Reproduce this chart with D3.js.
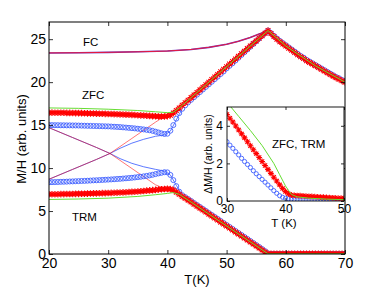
<!DOCTYPE html>
<html>
<head>
<meta charset="utf-8">
<script src="https://d3js.org/d3.v7.min.js"></script>
<style>
  body { margin: 0; background: #fff; }
  svg text { font-family: "Liberation Sans", Arial, sans-serif; fill: #000; }
</style>
</head>
<body>
<svg id="chart" width="382" height="288"></svg>
<script>
// ---- main panel data (T in K, M/H in arb. units) ----
const temps = [20,20.5,21,21.5,22,22.5,23,23.5,24,24.5,
  25,25.5,26,26.5,27,27.5,28,28.5,29,29.5,
  30,30.5,31,31.5,32,32.5,33,33.5,34,34.5,
  35,35.5,36,36.5,37,37.5,38,38.5,39,39.5,
  40,40.5,41,41.5,42,42.5,43,43.5,44,44.5,
  45,45.5,46,46.5,47,47.5,48,48.5,49,49.5,
  50,50.5,51,51.5,52,52.5,53,53.5,54,54.5,
  55,55.5,56,56.5,57,57.5,58,58.5,59,59.5,
  60,60.5,61,61.5,62,62.5,63,63.5,64,64.5,
  65,65.5,66,66.5,67,67.5,68,68.5,69,69.5,
  70];

const zfcStars = [16.45,16.45,16.44,16.44,16.43,16.43,16.42,16.42,16.41,16.40,
  16.40,16.39,16.38,16.37,16.36,16.35,16.34,16.33,16.32,16.31,
  16.30,16.29,16.28,16.27,16.25,16.24,16.22,16.21,16.19,16.17,
  16.15,16.13,16.11,16.09,16.07,16.05,16.03,16.01,16.00,16.00,
  16.05,16.15,16.40,16.70,17.00,17.30,17.60,17.90,18.20,18.50,
  18.80,19.10,19.40,19.70,20.00,20.30,20.60,20.90,21.20,21.50,
  21.80,22.10,22.40,22.70,23.00,23.30,23.60,23.90,24.20,24.50,
  24.80,25.10,25.40,25.70,26.00,25.65,25.30,25.00,24.70,24.45,
  24.20,23.95,23.70,23.45,23.20,22.95,22.75,22.50,22.30,22.10,
  21.90,21.70,21.50,21.30,21.10,20.90,20.70,20.50,20.35,20.15,
  20.00];

const zfcCircles = [15.00,15.00,14.99,14.99,14.98,14.98,14.97,14.97,14.96,14.96,
  14.95,14.94,14.93,14.92,14.91,14.90,14.89,14.88,14.87,14.86,
  14.85,14.83,14.81,14.79,14.77,14.74,14.71,14.68,14.65,14.62,
  14.58,14.54,14.50,14.45,14.40,14.33,14.24,14.14,14.04,13.97,
  14.00,14.35,15.00,15.75,16.40,16.90,17.30,17.65,17.95,18.25,
  18.55,18.85,19.15,19.45,19.75,20.05,20.35,20.65,20.95,21.25,
  21.60,21.90,22.20,22.52,22.84,23.16,23.48,23.80,24.12,24.44,
  24.76,25.08,25.40,25.70,26.00,25.70,25.38,25.08,24.80,24.55,
  24.30,24.05,23.80,23.55,23.30,23.05,22.85,22.60,22.40,22.20,
  22.00,21.80,21.60,21.40,21.20,21.00,20.80,20.60,20.45,20.25,
  20.10];

const trmStars = [6.95,6.95,6.96,6.96,6.97,6.97,6.98,6.98,6.99,7.00,
  7.00,7.01,7.02,7.03,7.04,7.05,7.06,7.07,7.08,7.09,
  7.10,7.11,7.12,7.14,7.15,7.17,7.19,7.21,7.23,7.25,
  7.28,7.31,7.34,7.37,7.40,7.43,7.46,7.50,7.53,7.56,
  7.58,7.55,7.45,7.20,6.95,6.70,6.50,6.27,6.04,5.80,
  5.57,5.34,5.11,4.88,4.64,4.41,4.18,3.95,3.71,3.48,
  3.25,3.02,2.79,2.55,2.32,2.09,1.86,1.63,1.39,1.16,
  0.93,0.70,0.46,0.23,0.02,0.02,0.02,0.02,0.02,0.02,
  0.02,0.02,0.02,0.02,0.02,0.02,0.02,0.02,0.02,0.02,
  0.02,0.02,0.02,0.02,0.02,0.02,0.02,0.02,0.02,0.02,
  0.02];

const trmCircles = [8.35,8.36,8.37,8.38,8.40,8.41,8.42,8.44,8.45,8.47,
  8.48,8.50,8.51,8.53,8.55,8.57,8.58,8.60,8.62,8.64,
  8.66,8.68,8.70,8.73,8.75,8.78,8.81,8.84,8.87,8.91,
  8.95,8.99,9.04,9.09,9.15,9.22,9.30,9.38,9.45,9.52,
  9.50,9.20,8.60,7.90,7.25,6.85,6.62,6.40,6.17,5.93,
  5.70,5.47,5.24,5.01,4.77,4.54,4.31,4.08,3.84,3.61,
  3.38,3.15,2.92,2.68,2.45,2.22,1.99,1.76,1.52,1.29,
  1.05,0.82,0.58,0.33,0.08,0.02,0.02,0.02,0.02,0.02,
  0.02,0.02,0.02,0.02,0.02,0.02,0.02,0.02,0.02,0.02,
  0.02,0.02,0.02,0.02,0.02,0.02,0.02,0.02,0.02,0.02,
  0.02];

// thin green curves
const greenT = [20, 25, 30, 35, 38, 40, 41, 42, 44, 57, 60, 65, 70];
const greenZfc = [17.0, 16.95, 16.85, 16.7, 16.55, 16.45, 16.5, 17.0, 18.2, 26.0, 24.2, 21.9, 20.0];
const greenTrm = [6.35, 6.4, 6.5, 6.7, 6.9, 7.05, 7.15, 6.95, 6.04, 0.02, 0.02, 0.02, 0.02];

// FC curve
const fcT = [20, 25, 30, 35, 40, 44, 47, 50, 52, 54, 55.5, 56.5, 57, 58, 60, 62, 64, 66, 68, 70];
const fcVal = [23.4, 23.42, 23.47, 23.53, 23.62, 23.8, 24.05, 24.4, 24.75, 25.2, 25.6, 25.85, 26.0,
  25.3, 24.2, 23.2, 22.3, 21.5, 20.7, 20.0];

// crossing thin lines
const redT = [20, 24, 28, 30.3, 34, 38, 42];
const redRise = [8.7, 9.85, 11.0, 11.7, 13.45, 15.35, 17.1];
const redFall = [14.7, 13.55, 12.4, 11.7, 9.95, 8.05, 6.95];
const blueT = [20, 24, 28, 30.3, 32, 34, 36, 38, 39.5, 40.5, 41.5, 42.5];
const blueRise = [8.7, 9.85, 11.0, 11.7, 12.3, 12.9, 13.35, 13.7, 13.85, 14.3, 15.6, 16.9];
const blueFall = [14.7, 13.55, 12.4, 11.7, 11.1, 10.55, 10.15, 9.85, 9.65, 9.2, 8.0, 6.9];

// ---- inset data ----
const insetT = [30,30.5,31,31.5,32,32.5,33,33.5,34,34.5,
  35,35.5,36,36.5,37,37.5,38,38.5,39,39.5,
  40,40.5,41,41.5,42,42.5,43,43.5,44,44.5,
  45,45.5,46,46.5,47,47.5,48,48.5,49,49.5,
  50];
const insetStars = [4.60,4.40,4.20,3.99,3.78,3.57,3.36,3.15,2.94,2.73,
  2.52,2.31,2.10,1.89,1.68,1.47,1.26,1.06,0.86,0.67,
  0.50,0.38,0.32,0.30,0.29,0.28,0.27,0.26,0.25,0.24,
  0.23,0.22,0.21,0.20,0.19,0.18,0.17,0.16,0.15,0.15,
  0.14];
const insetCircles = [3.15,2.97,2.80,2.62,2.45,2.27,2.10,1.94,1.78,1.61,
  1.45,1.30,1.15,1.00,0.85,0.70,0.55,0.41,0.28,0.20,
  0.15,0.12,0.10,0.08,0.07,0.06,0.06,0.05,0.05,0.05,
  0.05,0.05,0.05,0.05,0.05,0.05,0.05,0.05,0.05,0.05,
  0.05];
const greenInT = [30, 32, 34, 36, 38, 39, 40, 41, 42, 44, 47, 50];
const greenIn = [5.25, 4.5, 3.75, 2.95, 2.0, 1.4, 0.8, 0.35, 0.22, 0.15, 0.1, 0.07];

const xTicks = [20, 30, 40, 50, 60, 70];
const yTicks = [0, 5, 10, 15, 20, 25];
const xTicksIn = [30, 40, 50];
const yTicksIn = [0, 2, 4];

const RED = "#ff0000", BLUE = "#4060ff", GREEN = "#66dd33";

const svg = d3.select("#chart");

// scales
const x = d3.scaleLinear().domain([20, 70]).range([49, 345]);
const y = d3.scaleLinear().domain([0, 27]).range([254, 22]);
const xi = d3.scaleLinear().domain([30, 50]).range([227, 344]);
const yi = d3.scaleLinear().domain([0, 5]).range([201, 107]);

function starPath(s) {
  const d = s * 0.72;
  return `M${-s},0H${s}M0,${-s}V${s}M${-d},${-d}L${d},${d}M${-d},${d}L${d},${-d}`;
}

function drawLine(g, xs, ys, sx, sy, color, w, op) {
  const line = d3.line().x((d, i) => sx(xs[i])).y(d => sy(d));
  g.append("path").datum(ys).attr("d", line)
    .attr("fill", "none").attr("stroke", color)
    .attr("stroke-width", w).attr("stroke-opacity", op || 1);
}

function drawCircles(g, xs, ys, sx, sy, r) {
  g.append("g").selectAll("circle").data(ys).join("circle")
    .attr("cx", (d, i) => sx(xs[i])).attr("cy", d => sy(d)).attr("r", r)
    .attr("fill", "none").attr("stroke", BLUE).attr("stroke-width", 0.9);
}

function drawStars(g, xs, ys, sx, sy, s, w) {
  g.append("g").selectAll("path").data(ys).join("path")
    .attr("transform", (d, i) => `translate(${sx(xs[i])},${sy(d)})`)
    .attr("d", starPath(s))
    .attr("fill", "none").attr("stroke", RED).attr("stroke-width", w);
}

// ---- main panel ----
svg.append("defs").append("clipPath").attr("id", "clipMain")
  .append("rect").attr("x", 49).attr("y", 22).attr("width", 296).attr("height", 232);
svg.append("defs").append("clipPath").attr("id", "clipIn")
  .append("rect").attr("x", 227).attr("y", 107).attr("width", 117).attr("height", 94);

const plot = svg.append("g").attr("clip-path", "url(#clipMain)");

drawLine(plot, blueT, blueRise, x, y, BLUE, 1, 0.85);
drawLine(plot, blueT, blueFall, x, y, BLUE, 1, 0.85);
drawLine(plot, redT, redRise, x, y, RED, 0.9, 0.6);
drawLine(plot, redT, redFall, x, y, RED, 0.9, 0.6);

drawLine(plot, fcT, fcVal, x, y, "#6a3cc8", 1.6);
drawLine(plot, fcT, fcVal, x, y, "#e8183c", 1.0);

drawCircles(plot, temps, zfcCircles, x, y, 2.5);
drawCircles(plot, temps, trmCircles, x, y, 2.5);
drawStars(plot, temps, zfcStars, x, y, 3.3, 1.1);
drawStars(plot, temps, trmStars, x, y, 3.3, 1.1);
drawLine(plot, greenT, greenZfc, x, y, GREEN, 1);
drawLine(plot, greenT, greenTrm, x, y, GREEN, 1);

// axes, inward ticks
const axB = svg.append("g").attr("transform", "translate(0,254)")
  .call(d3.axisBottom(x).tickValues(xTicks).tickSize(-4).tickPadding(4).tickFormat(d3.format("d")));
const axL = svg.append("g").attr("transform", "translate(49,0)")
  .call(d3.axisLeft(y).tickValues(yTicks).tickSize(-4).tickPadding(3).tickFormat(d3.format("d")));
const axT = svg.append("g").attr("transform", "translate(0,22)")
  .call(d3.axisTop(x).tickValues(xTicks).tickSize(-4).tickFormat(""));
const axR = svg.append("g").attr("transform", "translate(345,0)")
  .call(d3.axisRight(y).tickValues(yTicks).tickSize(-4).tickFormat(""));
[axB, axL, axT, axR].forEach(a => {
  a.select(".domain").remove();
  a.selectAll("line").attr("stroke", "#000").attr("stroke-width", 0.8);
  a.selectAll("text").attr("font-size", 14).attr("font-family", "Liberation Sans, Arial, sans-serif").attr("fill", "#000");
});
svg.append("rect").attr("x", 49).attr("y", 22).attr("width", 296).attr("height", 232)
  .attr("fill", "none").attr("stroke", "#000").attr("stroke-width", 1);

svg.append("text").attr("x", 197).attr("y", 284).attr("text-anchor", "middle")
  .attr("font-size", 13).text("T(K)");
svg.append("text").attr("transform", "translate(26,139) rotate(-90)")
  .attr("text-anchor", "middle").attr("font-size", 13).text("M/H (arb. units)");

svg.append("text").attr("x", 83).attr("y", 46).attr("font-size", 11.5).text("FC");
svg.append("text").attr("x", 82).attr("y", 99).attr("font-size", 11.5).text("ZFC");
svg.append("text").attr("x", 72).attr("y", 221).attr("font-size", 11.5).text("TRM");

// ---- inset ----
svg.append("rect").attr("x", 227).attr("y", 107).attr("width", 117).attr("height", 94)
  .attr("fill", "#fff");
const inset = svg.append("g").attr("clip-path", "url(#clipIn)");
drawCircles(inset, insetT, insetCircles, xi, yi, 2.1);
drawStars(inset, insetT, insetStars, xi, yi, 2.9, 1.1);
drawLine(inset, greenInT, greenIn, xi, yi, GREEN, 1);

const iB = svg.append("g").attr("transform", "translate(0,201)")
  .call(d3.axisBottom(xi).tickValues(xTicksIn).tickSize(-3).tickPadding(3).tickFormat(d3.format("d")));
const iL = svg.append("g").attr("transform", "translate(227,0)")
  .call(d3.axisLeft(yi).tickValues(yTicksIn).tickSize(-3).tickPadding(4).tickFormat(d3.format("d")));
const iT = svg.append("g").attr("transform", "translate(0,107)")
  .call(d3.axisTop(xi).tickValues(xTicksIn).tickSize(-3).tickFormat(""));
const iR = svg.append("g").attr("transform", "translate(344,0)")
  .call(d3.axisRight(yi).tickValues(yTicksIn).tickSize(-3).tickFormat(""));
[iB, iL, iT, iR].forEach(a => {
  a.select(".domain").remove();
  a.selectAll("line").attr("stroke", "#000").attr("stroke-width", 0.8);
  a.selectAll("text").attr("font-size", 12).attr("font-family", "Liberation Sans, Arial, sans-serif").attr("fill", "#000");
});
svg.append("rect").attr("x", 227).attr("y", 107).attr("width", 117).attr("height", 94)
  .attr("fill", "none").attr("stroke", "#000").attr("stroke-width", 0.9);

svg.append("text").attr("x", 284).attr("y", 227).attr("text-anchor", "middle")
  .attr("font-size", 11.5).text("T (K)");
svg.append("text").attr("transform", "translate(212,154) rotate(-90)")
  .attr("text-anchor", "middle").attr("font-size", 10.5).text("ΔM/H (arb. units)");
svg.append("text").attr("x", 272).attr("y", 148).attr("font-size", 11.5).text("ZFC, TRM");
</script>
</body>
</html>
